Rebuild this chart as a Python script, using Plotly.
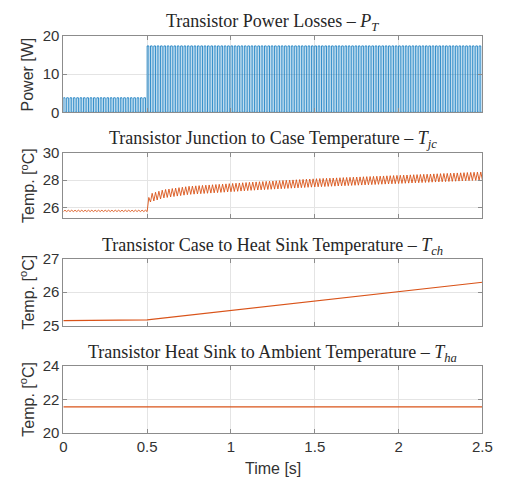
import numpy as np
import plotly.graph_objects as go
from plotly.subplots import make_subplots

# ---- data ----
# switching period of the power pulses [s] and pulse duty
pulse_period = 0.02
pulse_duty = 0.5
# load step: segment boundaries [s] and peak loss in each segment [W]
segment_edges = [0.0, 0.5, 2.5]
power_levels = [3.8, 17.4]

# junction-to-case temperature: mean trend keypoints and ripple half-amplitude
tjc_t = [0.0, 0.5, 0.505, 0.52, 0.6, 0.75, 1.0, 1.12, 1.5, 2.0, 2.5]
tjc_mean = [25.75, 25.75, 26.3, 26.7, 27.0, 27.25, 27.45, 27.55, 27.8, 28.05, 28.3]
tjc_ripple = [0.05, 0.3]

# case-to-heat-sink temperature keypoints
tch_t = [0.0, 0.5, 2.5]
tch_v = [25.15, 25.17, 26.3]

# heat-sink-to-ambient temperature
tha_t = [0.0, 2.5]
tha_v = [21.55, 21.55]

x_ticks = [0, 0.5, 1, 1.5, 2, 2.5]
y_ticks = [[0, 10, 20], [26, 28, 30], [25, 26, 27], [20, 22, 24]]
y_ranges = [[0, 20], [25.2, 30], [25, 27], [20, 24]]
titles = [
    "Transistor Power Losses \u2013 <i>P</i><sub><i>T</i></sub>",
    "Transistor Junction to Case Temperature \u2013 <i>T</i><sub><i>jc</i></sub>",
    "Transistor Case to Heat Sink Temperature \u2013 <i>T</i><sub><i>ch</i></sub>",
    "Transistor Heat Sink to Ambient Temperature \u2013 <i>T</i><sub><i>ha</i></sub>",
]
y_labels = ["Power [W]", "Temp. [<sup>o</sup>C]", "Temp. [<sup>o</sup>C]", "Temp. [<sup>o</sup>C]"]

# ---- waveforms ----
p_t, p_v, j_t, j_v = [], [], [], []
for seg in range(len(power_levels)):
    n = int(round((segment_edges[seg + 1] - segment_edges[seg]) / pulse_period))
    for k in range(n):
        t0 = segment_edges[seg] + k * pulse_period
        t1 = t0 + pulse_duty * pulse_period
        p_t += [t0, t0, t1, t1]
        p_v += [0, power_levels[seg], power_levels[seg], 0]
        # junction heats during the on-time and cools during the off-time
        a = tjc_ripple[seg]
        low = max(np.interp(t0, tjc_t, tjc_mean) - a, tjc_mean[0] - tjc_ripple[0])
        j_t += [t0, t1]
        j_v += [low, np.interp(t1, tjc_t, tjc_mean) + a]
p_t.append(segment_edges[-1]); p_v.append(0)
j_t.append(segment_edges[-1]); j_v.append(tjc_mean[-1] - tjc_ripple[-1])

blue = "#0072BD"
orange = "#D95319"
sans = "Liberation Sans, Arial, sans-serif"
serif = "Liberation Serif, serif"

fig = make_subplots(rows=4, cols=1)
fig.add_trace(go.Scatter(x=p_t, y=p_v, mode="lines", line=dict(color=blue, width=0.8)), 1, 1)
fig.add_trace(go.Scatter(x=j_t, y=j_v, mode="lines", line=dict(color=orange, width=0.9)), 2, 1)
fig.add_trace(go.Scatter(x=tch_t, y=tch_v, mode="lines", line=dict(color=orange, width=1.2)), 3, 1)
fig.add_trace(go.Scatter(x=tha_t, y=tha_v, mode="lines", line=dict(color=orange, width=1.2)), 4, 1)

H = 486.0
W = 508.0
x_dom = [61 / W, 492 / W]
panels_px = [(28, 107), (149, 217), (259, 328), (370, 439)]
title_y = [14, 135, 246, 357]

axis_common = dict(
    showline=True, linecolor="#8c8c8c", linewidth=1, mirror="ticks",
    ticks="inside", ticklen=4, tickcolor="#8c8c8c",
    showgrid=True, gridcolor="#e4e4e4", gridwidth=1, zeroline=False,
    tickfont=dict(family=sans, size=15, color="#333333"),
)

annotations = []
for i, (top, bot) in enumerate(panels_px):
    r = i + 1
    fig.update_xaxes(domain=x_dom, range=[0, 2.5], tickvals=x_ticks,
                     showticklabels=(r == 4), row=r, col=1, **axis_common)
    fig.update_yaxes(domain=[1 - bot / H, 1 - top / H], range=y_ranges[i],
                     tickvals=y_ticks[i], row=r, col=1, **axis_common)
    annotations.append(dict(
        text=titles[i], x=(x_dom[0] + x_dom[1]) / 2, y=1 - title_y[i] / H,
        xref="paper", yref="paper", showarrow=False, xanchor="center", yanchor="middle",
        font=dict(family=serif, size=18, color="#262626")))
    annotations.append(dict(
        text=y_labels[i], x=24 / W, y=1 - (top + bot) / 2 / H,
        xref="paper", yref="paper", showarrow=False, textangle=-90,
        xanchor="center", yanchor="middle",
        font=dict(family=sans, size=16, color="#333333")))

annotations.append(dict(
    text="Time [s]", x=(x_dom[0] + x_dom[1]) / 2, y=1 - 476 / H,
    xref="paper", yref="paper", showarrow=False, xanchor="center", yanchor="middle",
    font=dict(family=sans, size=16, color="#333333")))

fig.update_layout(
    width=508, height=486, margin=dict(l=0, r=0, t=0, b=0),
    paper_bgcolor="white", plot_bgcolor="white", showlegend=False,
    annotations=annotations,
)

fig.write_html("out.html")
